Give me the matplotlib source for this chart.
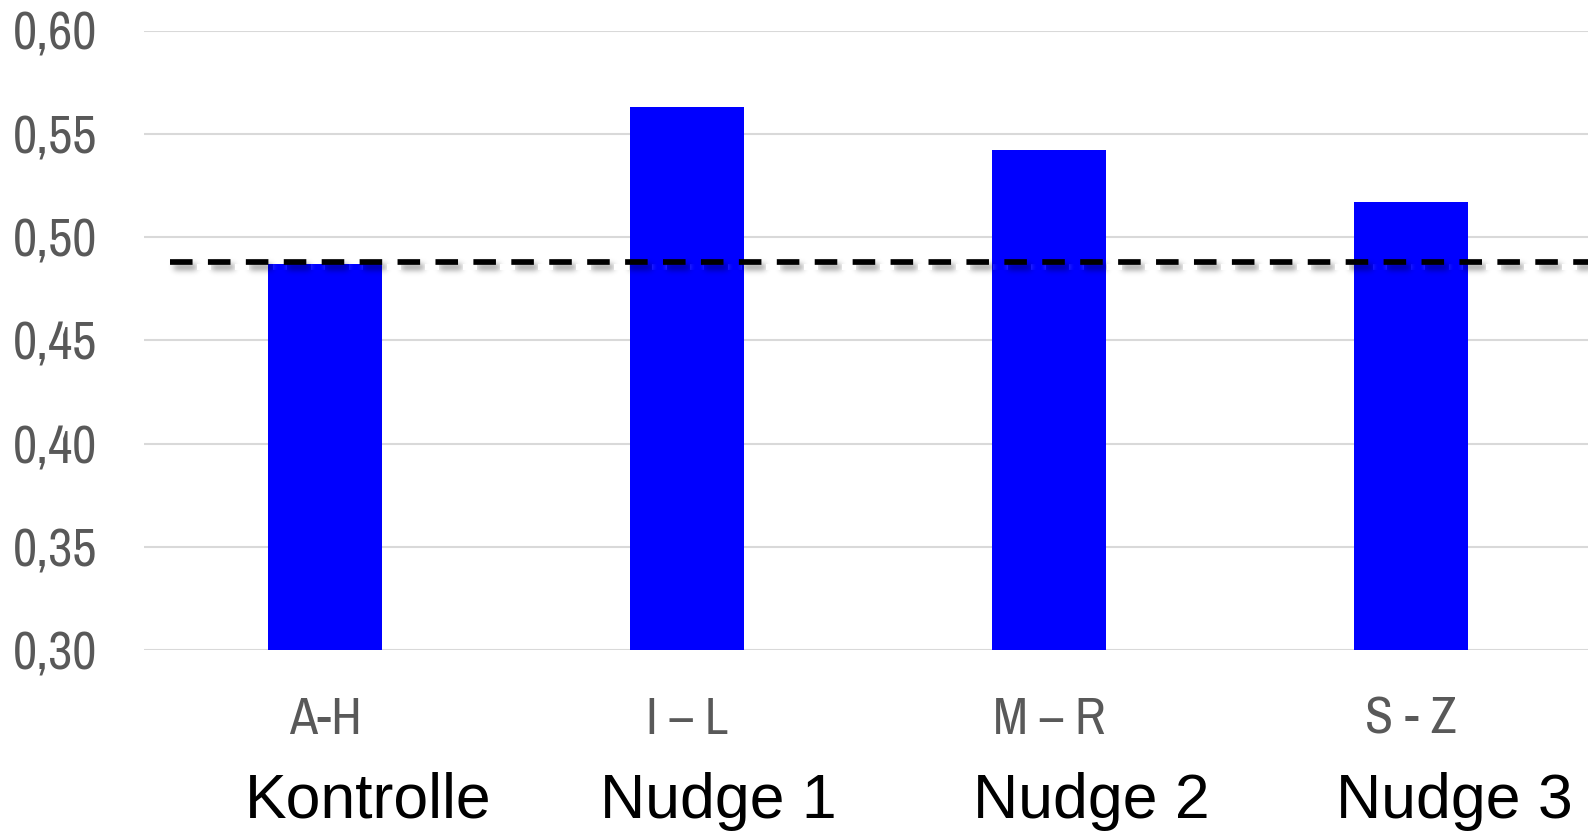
import numpy as np
import matplotlib
matplotlib.use("Agg")
import matplotlib.pyplot as plt
import matplotlib.transforms as mtransforms

# Gruppen und Anteile
gruppen = ["Kontrolle", "Nudge 1", "Nudge 2", "Nudge 3"]
buchstaben = ["A-H", "I \u2013 L", "M \u2013 R", "S - Z"]
anteile = [0.487, 0.563, 0.542, 0.517]
referenz = 0.488  # Niveau der Kontrollgruppe

y_ticks = [0.30, 0.35, 0.40, 0.45, 0.50, 0.55, 0.60]

schmal = ["Archivo Narrow", "Liberation Sans", "DejaVu Sans"]


def gauss_kernel(sigma):
    r = int(3 * sigma)
    x = np.arange(-r, r + 1)
    k = np.exp(-0.5 * (x / sigma) ** 2)
    return k / k.sum()


def schatten_filter(im, dpi, sigma=3.0, dx=4, dy=5):
    """Weichgezeichneter, verschobener Schatten fuer die Linie."""
    pad = 14
    a = np.pad(im, [(pad, pad), (pad, pad), (0, 0)], "constant")
    k = gauss_kernel(sigma)
    alpha = a[:, :, 3]
    alpha = np.apply_along_axis(lambda r: np.convolve(r, k, mode="same"), 1, alpha)
    alpha = np.apply_along_axis(lambda c: np.convolve(c, k, mode="same"), 0, alpha)
    a[:, :, 3] = alpha
    a = np.roll(a, dx, axis=1)
    a = np.roll(a, dy, axis=0)
    return a, -pad, -pad


fig = plt.figure(figsize=(15.88, 8.31), dpi=100)
ax = fig.add_axes([144 / 1588, 1 - 650 / 831, 1448 / 1588, (650 - 30.5) / 831])

x = np.arange(len(gruppen))
hoehen = [a - y_ticks[0] for a in anteile]
ax.bar(x, hoehen, bottom=y_ticks[0], width=0.313, color="#0000ff", zorder=2)

# gestrichelte Referenzlinie mit Schatten
strich = (0, (3.96, 2.7))
xs = [-0.428, 3.6]
schatten, = ax.plot(xs, [referenz, referenz], color="#000000", alpha=0.42,
                    lw=4.1, linestyle=strich, zorder=3, dash_capstyle="butt")
schatten.set_agg_filter(schatten_filter)
ax.plot(xs, [referenz, referenz], color="black", lw=4.1, linestyle=strich,
        zorder=4, dash_capstyle="butt")

ax.set_xlim(-0.5, 3.5)
ax.set_ylim(0.30, 0.60)
ax.set_yticks(y_ticks)
ax.set_yticklabels([f"{v:.2f}".replace(".", ",") for v in y_ticks])
ax.set_xticks(x)
ax.set_xticklabels(buchstaben)

ax.grid(axis="y", color="#d9d9d9", lw=1.5, zorder=0)
ax.set_axisbelow(True)
for s in ax.spines.values():
    s.set_visible(False)

ax.tick_params(axis="y", length=0, pad=34, labelsize=38, labelcolor="#595959")
ax.tick_params(axis="x", length=0, pad=33, labelsize=37, labelcolor="#595959")
for lab in ax.get_yticklabels() + ax.get_xticklabels():
    lab.set_family(schmal)

# Gruppennamen unter den Buchstabenbereichen
trans = mtransforms.blended_transform_factory(ax.transData, fig.transFigure)
versatz = [0.12, 0.086, 0.116, 0.12]
for i, name in enumerate(gruppen):
    ax.text(i + versatz[i], 1 - 818 / 831, name, ha="center", va="baseline",
            fontsize=45, color="black", family=["Liberation Sans", "DejaVu Sans"],
            transform=trans)

fig.savefig("out.png", dpi=100)
